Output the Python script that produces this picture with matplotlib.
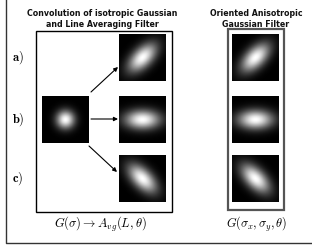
import numpy as np
import matplotlib
matplotlib.use("Agg")
import matplotlib.pyplot as plt
from matplotlib.patches import Rectangle

plt.rcParams["mathtext.fontset"] = "cm"

# ====================================
# filter parameters (sigma_x, sigma_y, angle in degrees)

row_labels = ["a)", "b)", "c)"]
angles = [45, 0, -45]
sigma_long = 0.48
sigma_short = 0.26
sigma_iso = 0.25

title_left = "Convolution of isotropic Gaussian\nand Line Averaging Filter"
title_right = "Oriented Anisotropic\nGaussian Filter"
formula_left = r"$G(\sigma) \rightarrow A_{vg}(L,\theta)$"
formula_right = r"$G(\sigma_x,\sigma_y,\theta)$"

# ====================================


def gauss(sx, sy, theta, n=64):
    t = np.linspace(-1, 1, n)
    x, y = np.meshgrid(t, -t)
    a = np.deg2rad(theta)
    u = x * np.cos(a) + y * np.sin(a)
    v = -x * np.sin(a) + y * np.cos(a)
    return np.exp(-(u**2 / (2 * sx**2) + v**2 / (2 * sy**2))) ** 0.85


fig = plt.figure(figsize=(3.12, 2.48), dpi=100)
ax = fig.add_axes([0, 0, 1, 1])
ax.set_xlim(0, 312)
ax.set_ylim(248, 0)
ax.axis("off")

# outer frame (left and bottom only visible)
ax.plot([6, 6, 312], [0, 243, 243], color="#333333", lw=1.0)

# boxes
ax.add_patch(Rectangle((36, 31), 136, 181, fill=False, ec="black", lw=1.0))
ax.add_patch(Rectangle((228, 29), 56, 181, fill=False, ec="#555555", lw=1.6))

row_y = [34, 96, 155]
size = 47

# source isotropic gaussian
ax.imshow(gauss(sigma_iso, sigma_iso, 0), cmap="gray", vmin=0, vmax=1,
          extent=(42, 42 + size, 96 + size, 96), interpolation="bilinear")

for lab, ang, y0 in zip(row_labels, angles, row_y):
    img = gauss(sigma_long, sigma_short, ang)
    for x0 in (119, 232):
        ax.imshow(img, cmap="gray", vmin=0, vmax=1,
                  extent=(x0, x0 + size, y0 + size, y0),
                  interpolation="bilinear")
    ax.text(18, y0 + size / 2, r"$\mathbf{" + lab + "}$", fontsize=9,
            ha="center", va="center")

# arrows from source to each row
starts = [(91, 92), (91, 119), (89, 146)]
ends = [(118, 67), (118, 119), (117, 172)]
for s, e in zip(starts, ends):
    ax.annotate("", xy=e, xytext=s,
                arrowprops=dict(arrowstyle="-|>", color="black", lw=0.8,
                                mutation_scale=6, shrinkA=0, shrinkB=0))

ax.text(102, 19, title_left, fontsize=5.7, fontweight="bold",
        ha="center", va="center", linespacing=1.15, color="#111111")
ax.text(256, 19, title_right, fontsize=5.7, fontweight="bold",
        ha="center", va="center", linespacing=1.15, color="#111111")

ax.text(100, 224, formula_left, fontsize=9, ha="center", va="center")
ax.text(257, 224, formula_right, fontsize=8.8, ha="center", va="center")

fig.savefig("out.png", dpi=100)
